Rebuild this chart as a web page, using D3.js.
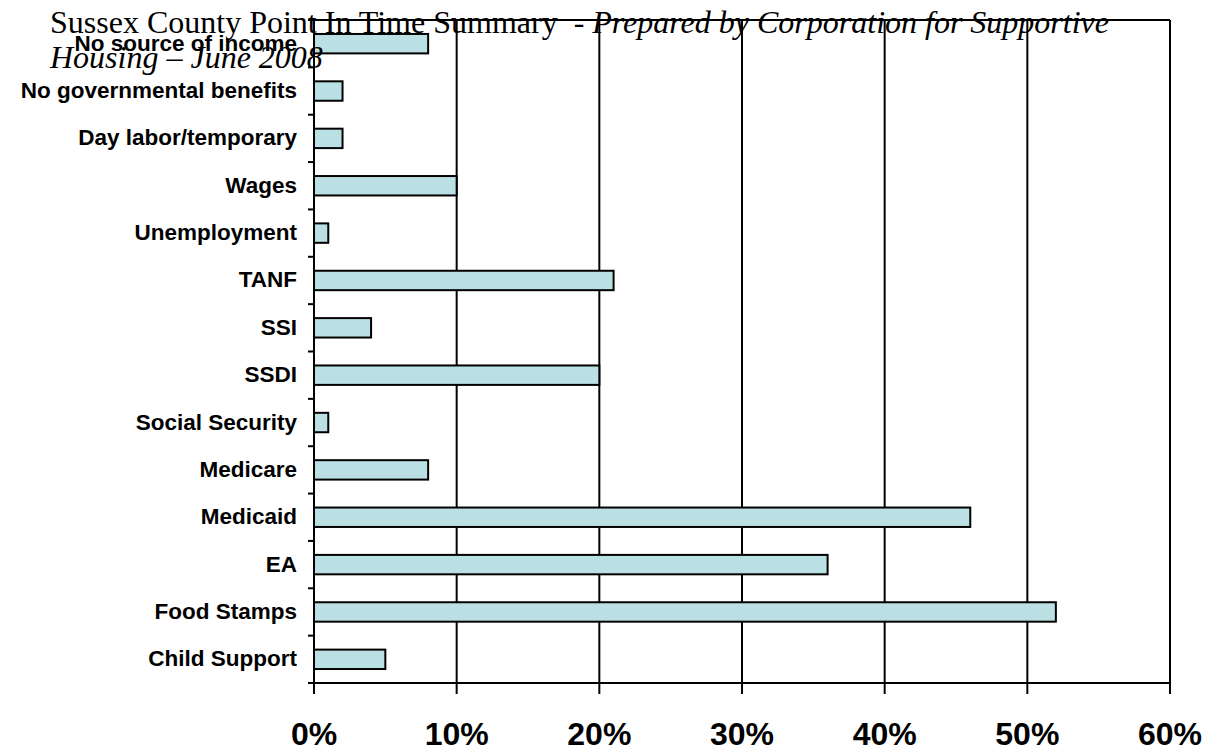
<!DOCTYPE html>
<html><head><meta charset="utf-8">
<script src="https://cdn.jsdelivr.net/npm/d3@7"></script>
<style>body{margin:0;background:#fff}svg{display:block}text{white-space:pre}</style>
</head><body>
<script>
const categories = ["No source of income","No governmental benefits","Day labor/temporary","Wages","Unemployment","TANF","SSI","SSDI","Social Security","Medicare","Medicaid","EA","Food Stamps","Child Support"];
const values = [8,2,2,10,1,21,4,20,1,8,46,36,52,5];
const xTicks = [0,10,20,30,40,50,60];

const W=1208,H=753;
const svg=d3.select("body").append("svg").attr("width",W).attr("height",H);
const L=314,R=1170,T=20,B=683;
const x=d3.scaleLinear().domain([0,60]).range([L,R]);
const y=d3.scaleBand().domain(categories).range([T,B]).paddingInner(0.59).paddingOuter(0.295);
const yb=d3.scaleBand().domain(categories).range([T,B]);

// gridlines + x ticks
svg.append("g").selectAll("line").data(xTicks.slice(1)).join("line")
  .attr("x1",d=>x(d)).attr("x2",d=>x(d)).attr("y1",T).attr("y2",B+11)
  .attr("stroke","#000").attr("stroke-width",2);
svg.append("line").attr("x1",L).attr("x2",R).attr("y1",T).attr("y2",T).attr("stroke","#000").attr("stroke-width",2);

// bars
svg.append("g").selectAll("rect").data(categories).join("rect")
  .attr("x",L).attr("y",d=>y(d)).attr("width",(d,i)=>x(values[i])-L).attr("height",y.bandwidth())
  .attr("fill","#BBE0E3").attr("stroke","#000").attr("stroke-width",2);

// y axis
svg.append("line").attr("x1",L).attr("x2",L).attr("y1",T).attr("y2",B+11).attr("stroke","#000").attr("stroke-width",2);
svg.append("g").selectAll("line").data(categories).join("line")
  .attr("x1",L-6).attr("x2",L).attr("y1",d=>yb(d)).attr("y2",d=>yb(d)).attr("stroke","#000").attr("stroke-width",2);
svg.append("line").attr("x1",L-6).attr("x2",R).attr("y1",B).attr("y2",B).attr("stroke","#000").attr("stroke-width",2);

svg.append("g").selectAll("text").data(categories).join("text")
  .attr("x",297).attr("y",d=>yb(d)+yb.bandwidth()/2+7)
  .attr("text-anchor","end").attr("font-family","Liberation Sans, Arial, sans-serif")
  .attr("font-weight","bold").attr("font-size",22.5).text(d=>d);

svg.append("g").selectAll("text").data(xTicks).join("text")
  .attr("x",d=>x(d)).attr("y",745).attr("text-anchor","middle")
  .attr("font-family","Liberation Sans, Arial, sans-serif").attr("font-weight","bold").attr("font-size",32)
  .text(d=>d+"%");

// title
const t=svg.append("text").attr("x",50).attr("y",33).attr("font-family","Liberation Serif, Times New Roman, serif").attr("font-size",32);
t.append("tspan").text("Sussex County Point In Time Summary  - ");
t.append("tspan").attr("font-style","italic").text("Prepared by Corporation for Supportive");
svg.append("text").attr("x",50).attr("y",68).attr("font-family","Liberation Serif, Times New Roman, serif").attr("font-size",32)
  .attr("font-style","italic").text("Housing \u2013 June 2008");
</script>
</body></html>
